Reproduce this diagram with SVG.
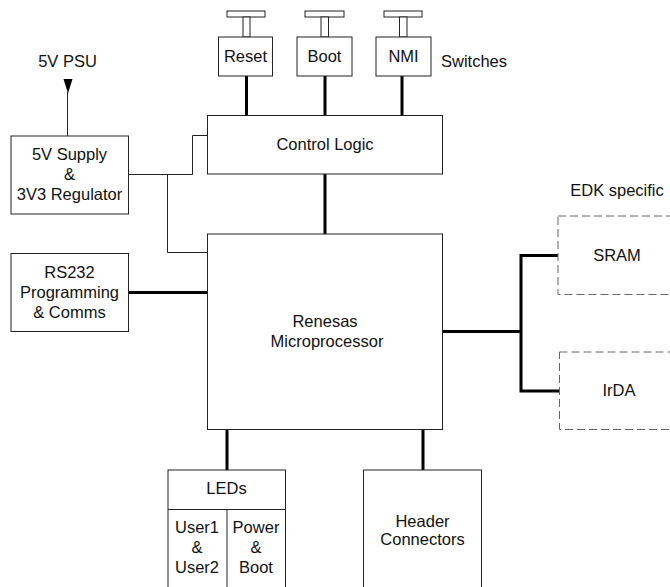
<svg xmlns="http://www.w3.org/2000/svg" width="670" height="587" viewBox="0 0 670 587">
<style>
  .box { fill: #fff; stroke: #222; stroke-width: 1; }
  .dash { fill: #fff; stroke: #666; stroke-width: 1; stroke-dasharray: 8 4; }
  .thin { fill: none; stroke: #222; stroke-width: 1; }
  .thick { fill: none; stroke: #000; stroke-width: 3; }
  text { font-family: "Liberation Sans", Arial, sans-serif; font-size: 16.5px; fill: #111; text-anchor: middle; }
  .l { text-anchor: start; }
</style>
<rect width="670" height="587" fill="#fff"/>
<g id="connectors">
  <line class="thick" x1="246.5" y1="76" x2="246.5" y2="115.5"/>
  <line class="thick" x1="325" y1="76" x2="325" y2="115.5"/>
  <line class="thick" x1="402" y1="76" x2="402" y2="115.5"/>
  <line class="thick" x1="325" y1="174" x2="325" y2="234"/>
  <line class="thin" x1="67.5" y1="92" x2="67.5" y2="136"/>
  <polygon points="63.5,79 72.5,79 68,93.5" fill="#000"/>
  <polyline class="thin" points="128.5,174.5 192.5,174.5 192.5,135.5 207.5,135.5"/>
  <polyline class="thin" points="167.5,174.5 167.5,252.5 207.5,252.5"/>
  <line class="thick" x1="128.5" y1="292.5" x2="207.5" y2="292.5"/>
  <line class="thick" x1="442.5" y1="331.5" x2="521" y2="331.5"/>
  <polyline class="thick" points="558,255.5 521,255.5 521,391 559.5,391"/>
  <line class="thick" x1="227" y1="429.5" x2="227" y2="470"/>
  <line class="thick" x1="423" y1="429.5" x2="423" y2="470"/>
</g>
<g id="reset">
  <rect class="box" x="227" y="11" width="38" height="6"/>
  <rect class="box" x="243" y="17" width="7" height="20"/>
  <rect class="box" x="218.5" y="37" width="54" height="39"/>
  <text x="245.5" y="62">Reset</text>
</g>
<g id="boot">
  <rect class="box" x="305" y="11" width="39" height="6"/>
  <rect class="box" x="321" y="17" width="7.5" height="20"/>
  <rect class="box" x="297" y="37" width="55" height="39"/>
  <text x="324.5" y="62">Boot</text>
</g>
<g id="nmi">
  <rect class="box" x="384" y="11" width="38" height="6"/>
  <rect class="box" x="399.5" y="17" width="7.5" height="20"/>
  <rect class="box" x="376" y="37" width="55" height="39"/>
  <text x="403.5" y="62">NMI</text>
</g>
<g id="switches-label">
  <text class="l" x="441" y="67">Switches</text>
</g>
<g id="psu-label">
  <text x="67.5" y="67">5V PSU</text>
</g>
<g id="supply">
  <rect class="box" x="11" y="136" width="117.5" height="78"/>
  <text x="69.5" y="160">5V Supply</text>
  <text x="69.5" y="180">&amp;</text>
  <text x="69.5" y="200">3V3 Regulator</text>
</g>
<g id="control-logic">
  <rect class="box" x="207.5" y="115.5" width="235" height="58.5"/>
  <text x="325" y="150">Control Logic</text>
</g>
<g id="rs232">
  <rect class="box" x="11" y="253.5" width="117.5" height="78"/>
  <text x="69.5" y="278">RS232</text>
  <text x="69.5" y="298">Programming</text>
  <text x="69.5" y="318">&amp; Comms</text>
</g>
<g id="micro">
  <rect class="box" x="207.5" y="234" width="235" height="195.5"/>
  <text x="325" y="327">Renesas</text>
  <text x="327" y="347">Microprocessor</text>
</g>
<g id="edk-label">
  <text x="617" y="196">EDK specific</text>
</g>
<g id="sram">
  <rect class="dash" x="558" y="216" width="130" height="78.5"/>
  <text x="617" y="261">SRAM</text>
</g>
<g id="irda">
  <rect class="dash" x="559.5" y="352" width="130" height="77.5"/>
  <text x="619" y="396">IrDA</text>
</g>
<g id="leds">
  <rect class="box" x="168" y="470" width="117.5" height="130"/>
  <line class="thin" x1="168" y1="509.5" x2="285.5" y2="509.5"/>
  <line class="thin" x1="227" y1="509.5" x2="227" y2="600"/>
  <text x="226.5" y="494">LEDs</text>
  <text x="197" y="533">User1</text>
  <text x="197" y="553">&amp;</text>
  <text x="197" y="573">User2</text>
  <text x="256" y="533">Power</text>
  <text x="256" y="553">&amp;</text>
  <text x="256" y="573">Boot</text>
</g>
<g id="header">
  <rect class="box" x="363.5" y="470" width="118" height="130"/>
  <text x="422.5" y="527">Header</text>
  <text x="422.5" y="545">Connectors</text>
</g>
</svg>
